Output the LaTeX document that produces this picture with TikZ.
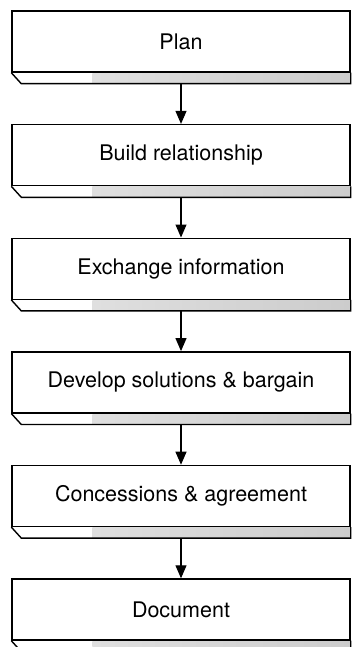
\documentclass[tikz,border=0pt]{standalone}
\usepackage{fontspec}
\setmainfont{TeX Gyre Heros}
\usetikzlibrary{arrows.meta}

\begin{document}
\begin{tikzpicture}[x=1pt,y=-1pt,>={Triangle[length=13pt,width=11pt]},line join=miter,
  stagebox/.style={draw,line width=1.4pt,minimum width=338pt,minimum height=61pt,inner sep=0pt,
    font=\fontsize{21.5}{25}\selectfont},
  stripline/.style={line width=1.4pt},
  stripfill/.style={left color=gray!25,right color=gray!40,draw=none},
  flow/.style={->,line width=1.1pt}]
\useasboundingbox (0,0) rectangle (351,647);
\node[stagebox] (plan) at (181,41.5) {Plan};
\node[stagebox] (build) at (181,155.1) {Build relationship};
\node[stagebox] (exch) at (181,268.7) {Exchange information};
\node[stagebox] (devel) at (181,382.3) {Develop solutions \& bargain};
\node[stagebox] (conc) at (181,495.9) {Concessions \& agreement};
\node[stagebox] (doc) at (181,609.5) {Document};
% base strips under the boxes
\shade[stripfill] ([xshift=81pt,yshift=-0.6pt]plan.south west) rectangle ([yshift=-11pt]plan.south east);
\draw[stripline] (plan.south west) -- ++(10,11) -- ([yshift=-11pt]plan.south east) -- (plan.south east);
\shade[stripfill] ([xshift=81pt,yshift=-0.6pt]build.south west) rectangle ([yshift=-11pt]build.south east);
\draw[stripline] (build.south west) -- ++(10,11) -- ([yshift=-11pt]build.south east) -- (build.south east);
\shade[stripfill] ([xshift=81pt,yshift=-0.6pt]exch.south west) rectangle ([yshift=-11pt]exch.south east);
\draw[stripline] (exch.south west) -- ++(10,11) -- ([yshift=-11pt]exch.south east) -- (exch.south east);
\shade[stripfill] ([xshift=81pt,yshift=-0.6pt]devel.south west) rectangle ([yshift=-11pt]devel.south east);
\draw[stripline] (devel.south west) -- ++(10,11) -- ([yshift=-11pt]devel.south east) -- (devel.south east);
\shade[stripfill] ([xshift=81pt,yshift=-0.6pt]conc.south west) rectangle ([yshift=-11pt]conc.south east);
\draw[stripline] (conc.south west) -- ++(10,11) -- ([yshift=-11pt]conc.south east) -- (conc.south east);
\shade[stripfill] ([xshift=81pt,yshift=-0.6pt]doc.south west) rectangle ([yshift=-11pt]doc.south east);
\draw[stripline] (doc.south west) -- ++(10,11) -- ([yshift=-11pt]doc.south east) -- (doc.south east);
% arrows
\draw[flow] ([yshift=-11pt]plan.south) -- (build.north);
\draw[flow] ([yshift=-11pt]build.south) -- (exch.north);
\draw[flow] ([yshift=-11pt]exch.south) -- (devel.north);
\draw[flow] ([yshift=-11pt]devel.south) -- (conc.north);
\draw[flow] ([yshift=-11pt]conc.south) -- (doc.north);
\end{tikzpicture}
\end{document}
